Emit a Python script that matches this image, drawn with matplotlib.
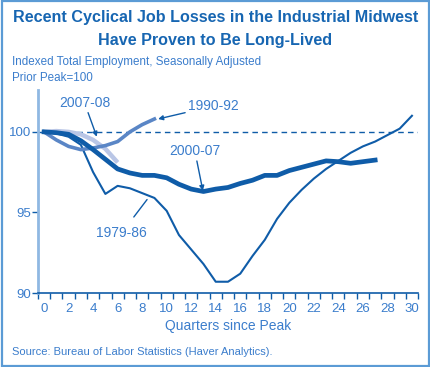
import numpy as np
import matplotlib
matplotlib.use("Agg")
import matplotlib.pyplot as plt
from matplotlib import font_manager
from matplotlib.patches import Rectangle

# pick a narrow font if one is around, otherwise shrink the title
names = set(f.name for f in font_manager.fontManager.ttflist)
FONT, NARROW = "Liberation Sans", False
for cand in ["Liberation Sans Narrow", "DejaVu Sans Condensed"]:
    if cand in names:
        FONT, NARROW = cand, True
        break
plt.rcParams['font.family'] = [FONT, 'DejaVu Sans']

# :: Data :: (index, prior peak = 100)
q_1979 = np.arange(0, 31)
v_1979 = [100, 99.9, 99.7, 99.2, 97.5, 96.15, 96.65, 96.5, 96.2, 95.9, 95.1,
          93.6, 92.7, 91.8, 90.7, 90.7, 91.2, 92.3, 93.3, 94.6, 95.6,
          96.4, 97.1, 97.7, 98.2, 98.7, 99.1, 99.4, 99.8, 100.2, 101.0]

q_2000 = np.arange(0, 28)
v_2000 = [100, 99.95, 99.85, 99.45, 98.9, 98.3, 97.7, 97.45, 97.3, 97.3, 97.15,
          96.75, 96.45, 96.3, 96.45, 96.55, 96.8, 97.0, 97.3, 97.3, 97.6,
          97.8, 98.0, 98.2, 98.15, 98.05, 98.15, 98.25]

q_1990 = np.arange(0, 10)
v_1990 = [100, 99.5, 99.1, 98.9, 99.0, 99.15, 99.4, 100.0, 100.45, 100.8]

q_2007 = np.arange(0, 7)
v_2007 = [100, 100.05, 100.0, 99.85, 99.5, 98.95, 98.1]

x_ticks = np.arange(0, 31, 2)
y_ticks = [90, 95, 100]

DARK = "#0f5ca8"
MID = "#5a86c6"
LIGHT = "#b9c6e6"
TXT = "#3b7dcc"
TITLE = "#1766b2"

title_size = 13.5 if NARROW else 11.6

fig = plt.figure(figsize=(4.31, 3.67), dpi=100)
fig.patches.append(Rectangle((0.004, 0.004), 0.992, 0.992, transform=fig.transFigure,
                             fill=False, edgecolor="#5b9bd5", linewidth=1.6))

ax = fig.add_axes([0.088, 0.2016, 0.882, 0.5532])

ax.plot(q_1979, v_1979, color=DARK, lw=1.5, zorder=3)
ax.plot(q_2007, v_2007, color=LIGHT, lw=3.2, solid_capstyle='butt', zorder=2)
ax.plot(q_1990, v_1990, color=MID, lw=2.6, zorder=3)
ax.plot(q_2000, v_2000, color=DARK, lw=3.4, zorder=4)
ax.axhline(100, color=DARK, lw=1.0, ls=(0, (4, 3)), zorder=1)

ax.set_xlim(-0.5, 30.5)
ax.set_ylim(90, 102.6)
ax.set_xticks(x_ticks)
ax.set_xticks(np.arange(-0.5, 31, 1), minor=True)
ax.set_yticks(y_ticks)
ax.tick_params(axis='x', which='major', length=0, pad=7, labelsize=9.5, labelcolor=TXT)
ax.tick_params(axis='x', which='minor', length=4, width=1, color=DARK, direction='out')
ax.tick_params(axis='y', length=4, width=1, color=DARK, pad=1, labelsize=9.5, labelcolor=TXT)

for s in ['top', 'right']:
    ax.spines[s].set_visible(False)
ax.spines['left'].set_color("#8fb8e2")
ax.spines['left'].set_linewidth(2)
ax.spines['bottom'].set_color(DARK)
ax.spines['bottom'].set_linewidth(1.2)

ax.set_xlabel("Quarters since Peak", color=TXT, fontsize=10, labelpad=3)

# series labels
arw = dict(arrowstyle='-|>', color=DARK, lw=1, mutation_scale=7, shrinkA=0, shrinkB=0)
ax.annotate("2007-08", xy=(4.3, 99.7), xytext=(3.3, 101.8), ha='center', va='center',
            color=TXT, fontsize=10, arrowprops=arw)
ax.annotate("1990-92", xy=(9.3, 100.8), xytext=(13.8, 101.6), ha='center', va='center',
            color=TXT, fontsize=10, arrowprops=arw)
ax.annotate("2000-07", xy=(12.95, 96.35), xytext=(12.3, 98.8), ha='center', va='center',
            color=TXT, fontsize=10, arrowprops=arw)
ax.annotate("1979-86", xy=(8.4, 95.8), xytext=(6.3, 93.7), ha='center', va='center',
            color=TXT, fontsize=10,
            arrowprops=dict(arrowstyle='-', color=DARK, lw=1, shrinkA=6, shrinkB=0))

fig.text(0.5, 0.952, "Recent Cyclical Job Losses in the Industrial Midwest",
         ha='center', va='center', color=TITLE, fontsize=title_size, fontweight='bold')
fig.text(0.5, 0.891, "Have Proven to Be Long-Lived",
         ha='center', va='center', color=TITLE, fontsize=title_size, fontweight='bold')
fig.text(0.028, 0.831, "Indexed Total Employment, Seasonally Adjusted",
         ha='left', va='center', color=TXT, fontsize=8.4)
fig.text(0.028, 0.787, "Prior Peak=100", ha='left', va='center', color=TXT, fontsize=8.4)
fig.text(0.028, 0.041, "Source: Bureau of Labor Statistics (Haver Analytics).",
         ha='left', va='center', color=TXT, fontsize=8)

fig.savefig("out.png", dpi=100)
